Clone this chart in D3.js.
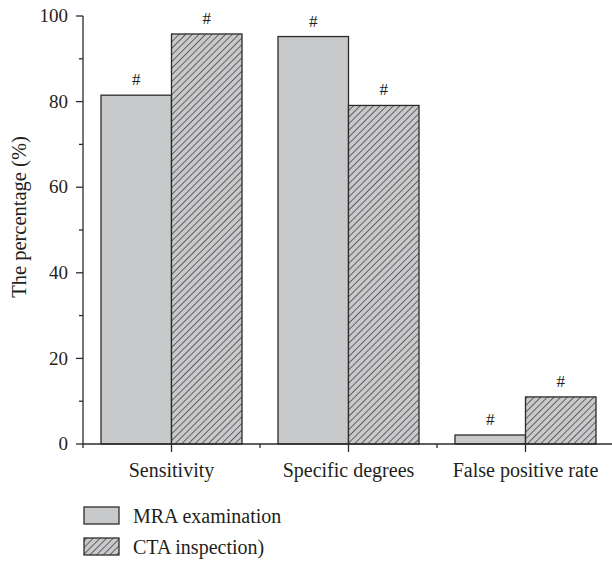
<!DOCTYPE html>
<html>
<head>
<meta charset="utf-8">
<script src="https://cdn.jsdelivr.net/npm/d3@7"></script>
<style>
  body { margin: 0; background: #fff; }
</style>
</head>
<body>
<div id="chart"></div>
<script>
// data
const categories = ['Sensitivity', 'Specific degrees', 'False positive rate'];
const seriesNames = ['MRA examination', 'CTA inspection)'];
const mraValues = [81.5, 95.2, 2.1];
const ctaValues = [95.8, 79.1, 11.0];
const yMajorTicks = [0, 20, 40, 60, 80, 100];
const yMinorTicks = [10, 30, 50, 70, 90];

const width = 612, height = 561;
const margin = { left: 83, top: 16, bottom: 117 };
const bandWidth = 177;
const serif = "'Liberation Serif', 'DejaVu Serif', 'Times New Roman', serif";
const ink = '#231f20';

const svg = d3.select('#chart').append('svg')
  .attr('width', width)
  .attr('height', height)
  .attr('viewBox', [0, 0, width, height])
  .attr('font-family', serif)
  .style('font-family', serif);

const defs = svg.append('defs');
const hatch = defs.append('pattern')
  .attr('id', 'hatch')
  .attr('patternUnits', 'userSpaceOnUse')
  .attr('width', 4.7)
  .attr('height', 4.7)
  .attr('patternTransform', 'rotate(45)');
hatch.append('rect').attr('width', 4.7).attr('height', 4.7).attr('fill', '#c8c9cb');
hatch.append('line')
  .attr('x1', 0).attr('y1', 0).attr('x2', 0).attr('y2', 4.7)
  .attr('stroke', '#2b2b2b').attr('stroke-width', 1.3);

// scales
const x = d3.scaleBand()
  .domain(categories)
  .range([margin.left, margin.left + bandWidth * categories.length])
  .paddingInner(0).paddingOuter(0);

const y = d3.scaleLinear()
  .domain([0, 100])
  .range([height - margin.bottom, margin.top]);

const barW = 70.5;
const series = [
  { name: seriesNames[0], values: mraValues, fill: '#c8c9cb', offset: -barW },
  { name: seriesNames[1], values: ctaValues, fill: 'url(#hatch)', offset: 0 }
];

// bars
const bars = svg.append('g').attr('id', 'bars');
series.forEach(s => {
  const g = bars.append('g');
  g.selectAll('rect')
    .data(categories)
    .join('rect')
    .attr('x', (d) => x(d) + x.bandwidth() / 2 + s.offset)
    .attr('y', (d, i) => y(s.values[i]))
    .attr('width', barW)
    .attr('height', (d, i) => y(0) - y(s.values[i]))
    .attr('fill', s.fill)
    .attr('stroke', '#2b2b2b')
    .attr('stroke-width', 1.3);

  g.selectAll('text')
    .data(categories)
    .join('text')
    .attr('x', (d) => x(d) + x.bandwidth() / 2 + s.offset + barW / 2)
    .attr('y', (d, i) => y(s.values[i]) - 10)
    .attr('text-anchor', 'middle')
    .attr('font-size', 17)
    .attr('fill', ink)
    .text('#');
});

// y axis
const yAxis = svg.append('g').attr('transform', `translate(${margin.left},0)`);
yAxis.append('line')
  .attr('x1', 0).attr('x2', 0).attr('y1', y(100)).attr('y2', y(0))
  .attr('stroke', '#2b2b2b').attr('stroke-width', 1.3);
yAxis.selectAll('.major')
  .data(yMajorTicks)
  .join('line')
  .attr('x1', -7).attr('x2', 0)
  .attr('y1', d => y(d)).attr('y2', d => y(d))
  .attr('stroke', '#2b2b2b').attr('stroke-width', 1.3);
yAxis.selectAll('.minor')
  .data(yMinorTicks)
  .join('line')
  .attr('x1', -4).attr('x2', 0)
  .attr('y1', d => y(d)).attr('y2', d => y(d))
  .attr('stroke', '#2b2b2b').attr('stroke-width', 1.3);
yAxis.selectAll('text')
  .data(yMajorTicks)
  .join('text')
  .attr('x', -15)
  .attr('y', d => y(d))
  .attr('dy', '0.33em')
  .attr('text-anchor', 'end')
  .attr('font-size', 19)
  .attr('fill', ink)
  .text(d => d);

svg.append('text')
  .attr('transform', 'translate(26,217) rotate(-90)')
  .attr('text-anchor', 'middle')
  .attr('font-size', 20.5)
  .attr('fill', ink)
  .text('The percentage (%)');

// x axis
const xAxis = svg.append('g').attr('transform', `translate(0,${y(0)})`);
xAxis.append('line')
  .attr('x1', margin.left).attr('x2', margin.left + bandWidth * categories.length)
  .attr('stroke', '#2b2b2b').attr('stroke-width', 1.3);
xAxis.selectAll('.major')
  .data(categories)
  .join('line')
  .attr('x1', d => x(d) + x.bandwidth() / 2).attr('x2', d => x(d) + x.bandwidth() / 2)
  .attr('y1', 0).attr('y2', 8)
  .attr('stroke', '#2b2b2b').attr('stroke-width', 1.3);
xAxis.selectAll('.minor')
  .data(categories)
  .join('line')
  .attr('x1', d => x(d)).attr('x2', d => x(d))
  .attr('y1', 0).attr('y2', 4)
  .attr('stroke', '#2b2b2b').attr('stroke-width', 1.3);
xAxis.selectAll('text')
  .data(categories)
  .join('text')
  .attr('x', d => x(d) + x.bandwidth() / 2)
  .attr('y', 33)
  .attr('text-anchor', 'middle')
  .attr('font-size', 20)
  .attr('fill', ink)
  .text(d => d);

// legend
const legend = svg.append('g').attr('transform', 'translate(84,507)');
series.forEach((s, i) => {
  legend.append('rect')
    .attr('x', 0).attr('y', i * 31)
    .attr('width', 35).attr('height', 17)
    .attr('fill', s.fill)
    .attr('stroke', '#2b2b2b').attr('stroke-width', 1.3);
  legend.append('text')
    .attr('x', 49).attr('y', i * 31 + 8.5)
    .attr('dy', '0.35em')
    .attr('font-size', 20)
    .attr('fill', ink)
    .text(s.name);
});
</script>
</body>
</html>
